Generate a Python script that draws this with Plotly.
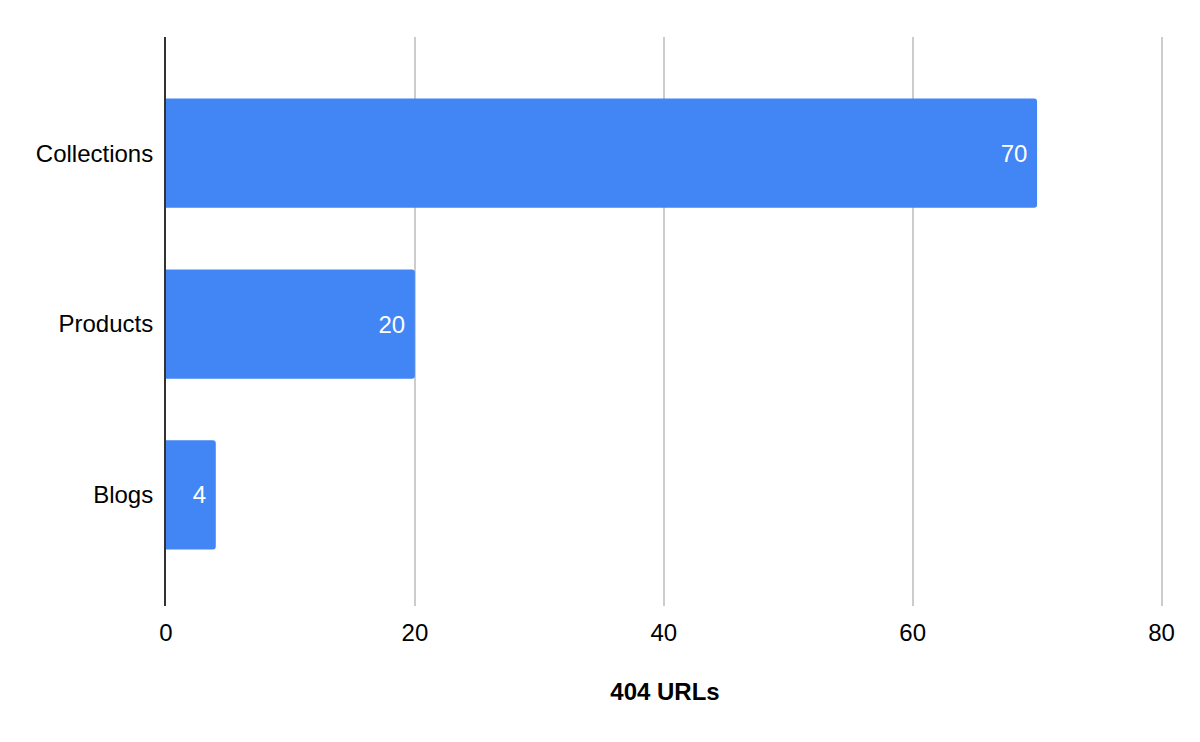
import plotly.graph_objects as go

# data
categories = ["Blogs", "Products", "Collections"]
counts = [4, 20, 70]
x_ticks = [0, 20, 40, 60, 80]

fig = go.Figure(
    go.Bar(
        x=counts,
        y=categories,
        orientation="h",
        marker=dict(color="#4285F4", line=dict(width=0)),
        text=counts,
        texttemplate="%{x}&nbsp;",
        textposition="inside",
        insidetextanchor="end",
        textfont=dict(color="white", size=24),
        cliponaxis=False,
    )
)

# page body has an 8px margin, so offsets are compensated
fig.update_layout(
    width=1200,
    height=742,
    margin=dict(l=158, r=44, t=29, b=144),
    paper_bgcolor="white",
    plot_bgcolor="white",
    font=dict(family="Liberation Sans, Arial, sans-serif", size=24, color="#000000"),
    bargap=0.36,
    barcornerradius=3,
    showlegend=False,
)

fig.update_xaxes(
    range=[0, 80.2],
    tickvals=x_ticks,
    showgrid=True,
    gridcolor="#cccccc",
    gridwidth=2,
    zeroline=False,
    showline=False,
    ticks="",
    ticklabelstandoff=10,
    title=dict(text="<b>404 URLs</b>", font=dict(size=24), standoff=38),
)

fig.update_yaxes(
    range=[-0.65, 2.68],
    showgrid=False,
    showline=True,
    linecolor="#333333",
    linewidth=2,
    ticks="",
    ticklabelstandoff=6,
)

fig.write_html("out.html")
